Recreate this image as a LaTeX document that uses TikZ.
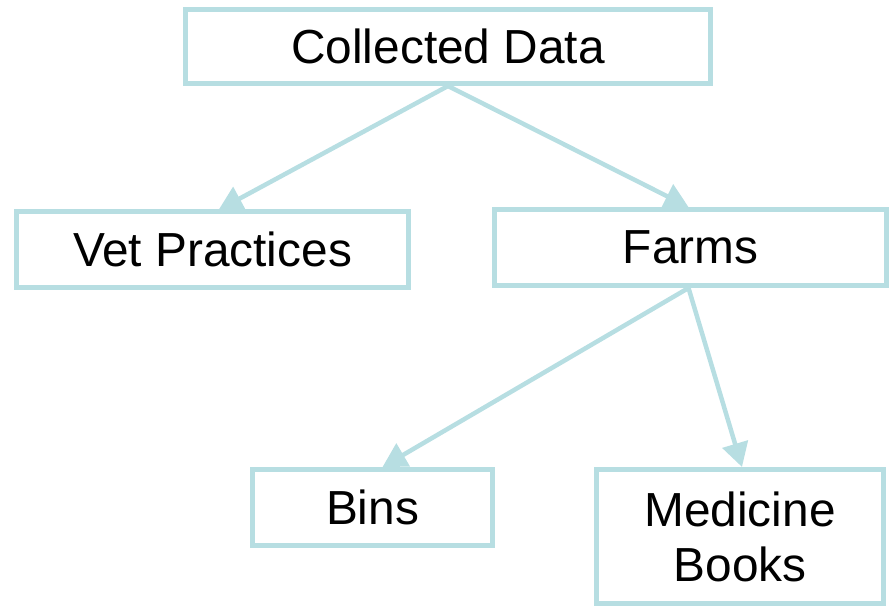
\documentclass[tikz,border=0pt]{standalone}
\usepackage{fontspec}
\setmainfont{Liberation Sans}
\usetikzlibrary{arrows.meta}
\definecolor{teal1}{RGB}{183,222,226}
\begin{document}
\begin{tikzpicture}[x=1pt,y=-1pt,
  box/.style={draw=teal1,line width=5pt,fill=white,inner sep=0pt,align=center,
    font=\fontsize{47.8}{55}\selectfont},
  conn/.style={draw=teal1,line width=4.5pt,-{Triangle[length=24pt,width=26pt]}}]
\useasboundingbox (0,0) rectangle (894,613);
\node[box,minimum width=525pt,minimum height=74pt] (cd) at (448,46.5) {Collected Data};
\node[box,minimum width=392pt,minimum height=76pt] (vet) at (212.5,249.5) {Vet Practices};
\node[box,minimum width=392pt,minimum height=76pt] (farms) at (690.5,247.5) {Farms};
\node[box,minimum width=240pt,minimum height=76pt] (bins) at (372.5,507.5) {Bins};
\node[box,minimum width=287pt,minimum height=134pt] (med) at (740,536.5) {Medicine\\Books};
\draw[conn] (cd.south) -- ([xshift=6pt,yshift=-1pt]vet.north);
\draw[conn] (cd.south) -- ([xshift=-2pt]farms.north);
\draw[conn] ([xshift=-2pt]farms.south) -- ([xshift=10pt]bins.north);
\draw[conn] ([xshift=-2pt]farms.south) -- ([xshift=2pt]med.north);
\end{tikzpicture}
\end{document}
